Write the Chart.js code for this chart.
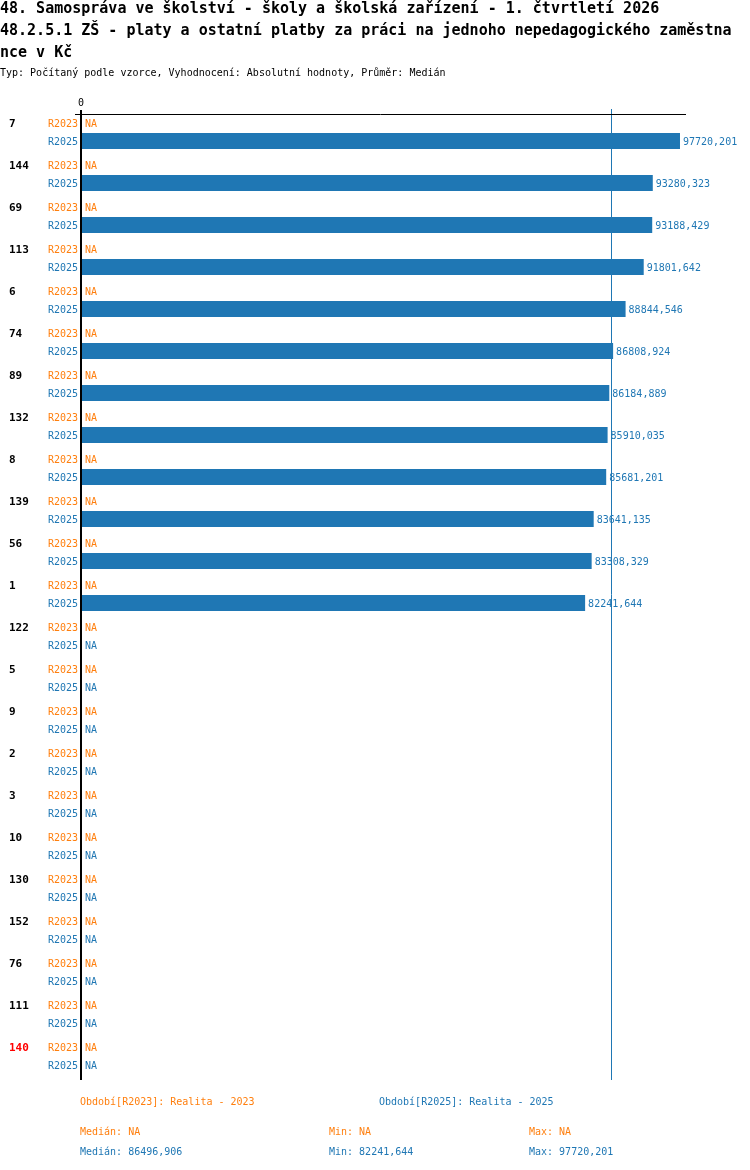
<!DOCTYPE html>
<html>
<head>
<meta charset="utf-8">
<script src="https://cdn.jsdelivr.net/npm/chart.js@4/dist/chart.umd.min.js"></script>
<style>
  html, body { margin: 0; padding: 0; background: #fff; }
  body { width: 750px; height: 1170px; position: relative; overflow: hidden; font-family: "DejaVu Sans Mono", "Liberation Mono", monospace; }
  #chart { position: absolute; left: 0; top: 0; }
  .t { position: absolute; white-space: pre; }
  .title { left: 0; font-size: 15px; font-weight: bold; line-height: 22px; color: #000; }
  .small { font-size: 10px; line-height: 12px; }
  .orange { color: #ff7f0e; }
  .blue { color: #1f77b4; }
</style>
</head>
<body>
<canvas id="chart" width="750" height="1170"></canvas>
<div class="t title" style="top:-3px">48. Samospráva ve školství - školy a školská zařízení - 1. čtvrtletí 2026
48.2.5.1 ZŠ - platy a ostatní platby za práci na jednoho nepedagogického zaměstna
nce v Kč</div>
<div class="t small" style="left:0;top:67px;color:#000">Typ: Počítaný podle vzorce, Vyhodnocení: Absolutní hodnoty, Průměr: Medián</div>

<div class="t small orange" style="left:80px;top:1096px" id="leg0"></div>
<div class="t small blue" style="left:379px;top:1096px" id="leg1"></div>
<div class="t small orange" style="left:80px;top:1126px" id="med0"></div>
<div class="t small orange" style="left:329px;top:1126px" id="min0"></div>
<div class="t small orange" style="left:529px;top:1126px" id="max0"></div>
<div class="t small blue" style="left:80px;top:1146px" id="med1"></div>
<div class="t small blue" style="left:329px;top:1146px" id="min1"></div>
<div class="t small blue" style="left:529px;top:1146px" id="max1"></div>

<script>
// ---- data ----
const categories = ['7','144','69','113','6','74','89','132','8','139','56','1','122','5','9','2','3','10','130','152','76','111','140'];
const highlighted = ['140'];
const seriesNames = ['R2023', 'R2025'];
const seriesTitles = ['Realita - 2023', 'Realita - 2025'];
const r2023 = [null,null,null,null,null,null,null,null,null,null,null,null,null,null,null,null,null,null,null,null,null,null,null];
const r2025 = [97720.201, 93280.323, 93188.429, 91801.642, 88844.546, 86808.924, 86184.889, 85910.035, 85681.201, 83641.135, 83308.329, 82241.644,
               null,null,null,null,null,null,null,null,null,null,null];
const xTicks = [0];

const colors = ['#ff7f0e', '#1f77b4'];
const FONT = '"DejaVu Sans Mono", "Liberation Mono", monospace';

function fmt(v) {
  if (v === null || v === undefined || !isFinite(v)) return 'NA';
  return (Math.floor(v * 1000 + 1e-4) / 1000).toFixed(3).replace('.', ',');
}
function stats(arr) {
  const v = arr.filter(x => x !== null).sort((a, b) => a - b);
  if (!v.length) return { med: null, min: null, max: null };
  const n = v.length;
  const med = n % 2 ? v[(n - 1) / 2] : (v[n / 2 - 1] + v[n / 2]) / 2;
  return { med, min: v[0], max: v[n - 1] };
}
const allSeries = [r2023, r2025];
const st = allSeries.map(stats);

// footer
for (let s = 0; s < 2; s++) {
  document.getElementById('leg' + s).textContent = 'Období[' + seriesNames[s] + ']: ' + seriesTitles[s];
  document.getElementById('med' + s).textContent = 'Medián: ' + fmt(st[s].med);
  document.getElementById('min' + s).textContent = 'Min: ' + fmt(st[s].min);
  document.getElementById('max' + s).textContent = 'Max: ' + fmt(st[s].max);
}

const overlay = {
  id: 'overlay',
  afterDatasetsDraw(chart) {
    const ctx = chart.ctx;
    const xs = chart.scales.x;
    const area = chart.chartArea;
    const x0 = xs.getPixelForValue(0);
    ctx.save();
    // median lines
    st.forEach((s, si) => {
      if (s.med === null) return;
      const xm = Math.round(xs.getPixelForValue(s.med)) + 0.5;
      ctx.strokeStyle = colors[si];
      ctx.lineWidth = 1;
      ctx.beginPath();
      ctx.moveTo(xm, area.top - 2);
      ctx.lineTo(xm, area.bottom + 3);
      ctx.stroke();
    });
    // top axis line
    ctx.strokeStyle = '#000';
    ctx.lineWidth = 1;
    ctx.beginPath();
    ctx.moveTo(x0 - 6, area.top + 3.5);
    ctx.lineTo(area.right, area.top + 3.5);
    ctx.stroke();
    // zero axis vertical line
    ctx.lineWidth = 2;
    ctx.beginPath();
    ctx.moveTo(x0, area.top - 1);
    ctx.lineTo(x0, area.bottom + 3);
    ctx.stroke();
    // tick labels
    ctx.fillStyle = '#000';
    ctx.font = '10px ' + FONT;
    ctx.textAlign = 'center';
    ctx.textBaseline = 'middle';
    xTicks.forEach(t => ctx.fillText(String(t), xs.getPixelForValue(t), area.top - 8));

    // row labels
    chart.data.datasets.forEach((ds, di) => {
      const meta = chart.getDatasetMeta(di);
      meta.data.forEach((el, i) => {
        const y = el.y + 1;
        // series label
        ctx.font = '10px ' + FONT;
        ctx.fillStyle = colors[di];
        ctx.textAlign = 'right';
        ctx.textBaseline = 'middle';
        ctx.fillText(seriesNames[di], x0 - 3, y);
        // value label
        const v = ds.data[i];
        ctx.textAlign = 'left';
        if (v === null || !isFinite(el.x)) {
          ctx.fillText('NA', x0 + 4, y);
        } else {
          ctx.fillText(fmt(v), el.x + 3, y);
        }
        // category label on first series row
        if (di === 0) {
          ctx.font = 'bold 11px ' + FONT;
          ctx.fillStyle = highlighted.includes(categories[i]) ? '#ff0000' : '#000';
          ctx.textAlign = 'left';
          ctx.fillText(categories[i], 9, y);
        }
      });
    });
    ctx.restore();
  }
};

new Chart(document.getElementById('chart'), {
  type: 'bar',
  data: {
    labels: categories,
    datasets: [
      { label: seriesNames[0], data: r2023, backgroundColor: colors[0] },
      { label: seriesNames[1], data: r2025, backgroundColor: colors[1] }
    ]
  },
  options: {
    indexAxis: 'y',
    responsive: false,
    animation: false,
    devicePixelRatio: 1,
    layout: { padding: { left: 81, right: 64, top: 111, bottom: 93 } },
    categoryPercentage: 0.857,
    barPercentage: 0.89,
    scales: {
      x: { display: false, min: 0, max: 98700 },
      y: { display: false }
    },
    plugins: {
      legend: { display: false },
      title: { display: false },
      tooltip: { enabled: false }
    }
  },
  plugins: [overlay]
});
</script>
</body>
</html>
